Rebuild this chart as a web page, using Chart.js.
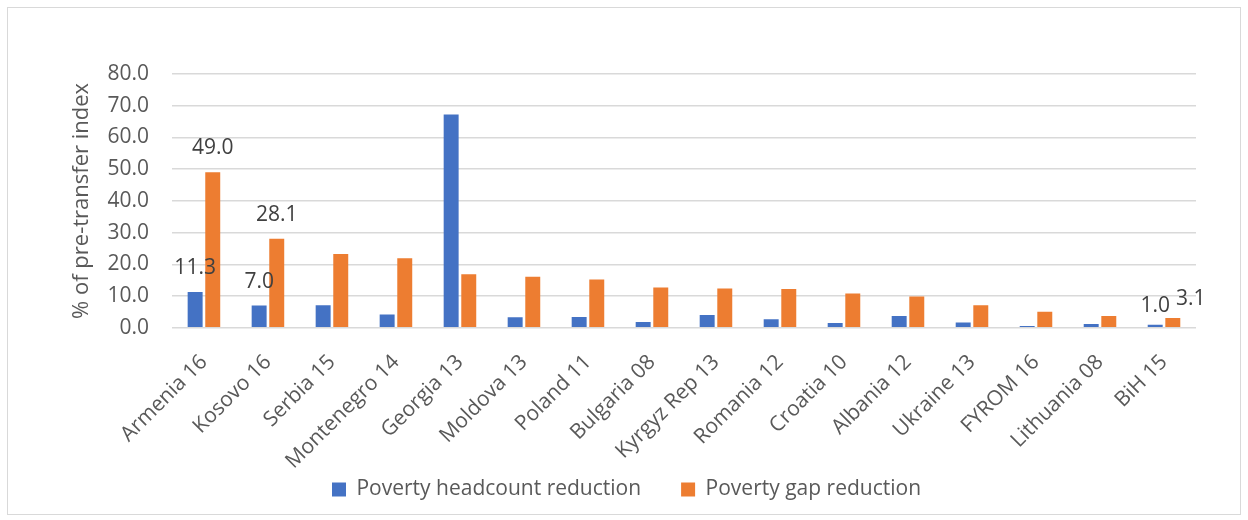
<!DOCTYPE html>
<html>
<head>
<meta charset="utf-8">
<script src="https://cdn.jsdelivr.net/npm/chart.js@4"></script>
<style>
  body { margin: 0; background: #fff; }
  #frame {
    position: absolute; left: 7px; top: 7px;
    width: 1232px; height: 506px;
    border: 1px solid #d9d9d9; background: #fff;
  }
</style>
</head>
<body>
<div id="frame"><canvas id="chart"></canvas></div>
<script>
// categories and series values
const countries = ['Armenia 16', 'Kosovo 16', 'Serbia 15', 'Montenegro 14', 'Georgia 13', 'Moldova 13',
  'Poland 11', 'Bulgaria 08', 'Kyrgyz Rep 13', 'Romania 12', 'Croatia 10', 'Albania 12',
  'Ukraine 13', 'FYROM 16', 'Lithuania 08', 'BiH 15'];
const headcountReduction = [11.3, 7.0, 7.1, 4.2, 67.2, 3.3, 3.4, 1.8, 4.0, 2.7, 1.5, 3.7, 1.7, 0.6, 1.2, 1.0];
const gapReduction = [49.0, 28.1, 23.3, 21.9, 16.9, 16.1, 15.2, 12.7, 12.4, 12.2, 10.8, 9.9, 7.1, 5.1, 3.7, 3.1];
const yTicks = [0, 10, 20, 30, 40, 50, 60, 70, 80];
// only these categories carry value labels
const labelledCountries = ['Armenia 16', 'Kosovo 16', 'BiH 15'];

const FONT = "'Open Sans', 'Noto Sans', sans-serif";
const TEXT = '#595959';
const Y_TICK_PAD = 23;

// draws the few data labels above their bars
const valueLabels = {
  id: 'valueLabels',
  afterLayout(chart) {
    // x labels are allowed to run past the shrunken axis box, don't clip them
    chart.scales.x.bottom = chart.height;
  },
  afterDatasetsDraw(chart) {
    const ctx = chart.ctx;
    ctx.save();
    ctx.font = `21px ${FONT}`;
    ctx.fillStyle = '#404040';
    ctx.textAlign = 'center';
    ctx.textBaseline = 'middle';
    chart.data.datasets.forEach((ds, di) => {
      const meta = chart.getDatasetMeta(di);
      meta.data.forEach((bar, i) => {
        if (!labelledCountries.includes(countries[i])) return;
        let dx = 0, dy = 24;
        if (countries[i] === 'BiH 15') { dy = 19; if (di === 1) dx = 18; }
        ctx.fillText(ds.data[i].toFixed(1), bar.x + dx, bar.y - dy);
      });
    });
    ctx.restore();
  }
};

new Chart(document.getElementById('chart'), {
  type: 'bar',
  data: {
    labels: countries,
    datasets: [
      { label: 'Poverty headcount reduction', data: headcountReduction, backgroundColor: '#4472C4' },
      { label: 'Poverty gap reduction', data: gapReduction, backgroundColor: '#ED7D31' }
    ]
  },
  options: {
    responsive: true,
    maintainAspectRatio: false,
    animation: false,
    categoryPercentage: 0.55,
    barPercentage: 0.85,
    layout: { padding: { top: 66, right: 44, left: 49, bottom: 4 } },
    plugins: {
      legend: {
        position: 'bottom',
        labels: {
          color: TEXT,
          font: { family: FONT, size: 21 },
          boxWidth: 14, boxHeight: 14,
          padding: 40
        }
      },
      tooltip: { enabled: false }
    },
    scales: {
      x: {
        grid: { display: false },
        border: { display: false },
        // let the rotated labels hang into the empty space
        afterFit(axis) { axis.paddingLeft = 0; axis.height -= 49; },
        ticks: {
          color: TEXT,
          font: { family: FONT, size: 21 },
          maxRotation: 45, minRotation: 45,
          padding: 14
        }
      },
      y: {
        min: 0, max: 80,
        afterBuildTicks(axis) { axis.ticks = yTicks.map(v => ({ value: v })); },
        afterFit(axis) { axis.width -= Y_TICK_PAD; },
        grid: { color: '#d9d9d9', lineWidth: 1.5, drawTicks: false },
        border: { display: false },
        ticks: {
          color: TEXT,
          font: { family: FONT, size: 21 },
          padding: Y_TICK_PAD,
          callback: v => v.toFixed(1)
        },
        title: {
          display: true,
          text: '% of pre-transfer index',
          color: TEXT,
          font: { family: FONT, size: 22 },
          padding: 12
        }
      }
    }
  },
  plugins: [valueLabels]
});
</script>
</body>
</html>
